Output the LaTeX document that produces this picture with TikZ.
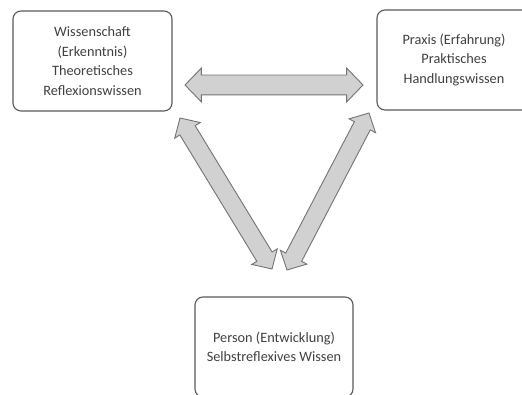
\documentclass[tikz,border=0pt]{standalone}
\usepackage{fontspec}
\setmainfont{Carlito}
\usetikzlibrary{shapes.arrows,calc}
\begin{document}
\begin{tikzpicture}[x=1pt,y=1pt]
            \tikzstyle{kasten}=[draw=black!65,line width=1.1pt,rounded corners=8pt,
              minimum height=100pt,align=center,text=black!75,
              font=\fontsize{14.3}{19.5}\selectfont]
            \tikzset{pfeil/.style = {double arrow,draw=black!55,fill=black!18,line width=0.9pt,
              inner xsep=0pt,double arrow tip angle=92}}
            \clip (0,0) rectangle (522,395);
            \node[kasten,minimum width=159pt] (wiss) at (92.5,334) {Wissenschaft\\(Erkenntnis)\\Theoretisches\\Reflexionswissen};
            \node[kasten,minimum width=154pt] (prax) at (454,335) {Praxis (Erfahrung)\\Praktisches\\Handlungswissen};
            \node[kasten,minimum width=158pt] (pers) at (274,48) {Person (Entwicklung)\\Selbstreflexives Wissen};
            \coordinate (wp1) at (185,310);
            \coordinate (wp2) at (363,310);
            \coordinate (wq1) at (180,277);
            \coordinate (wq2) at (272,126);
            \coordinate (pq1) at (369,282);
            \coordinate (pq2) at (287,125);
            \foreach \a/\b/\s/\e in {wp1/wp2/9.5/7, wq1/wq2/8.5/6, pq1/pq2/8.5/6} {
              \path let \p1=($(\b)-(\a)$), \n1={atan2(\y1,\x1)}, \n2={veclen(\x1,\y1)} in
                node[pfeil,inner ysep=\s pt,double arrow head extend=\e pt,
                  minimum height=\n2,rotate=\n1] at ($(\a)!0.5!(\b)$) {};
            }
        \end{tikzpicture}
\end{document}
